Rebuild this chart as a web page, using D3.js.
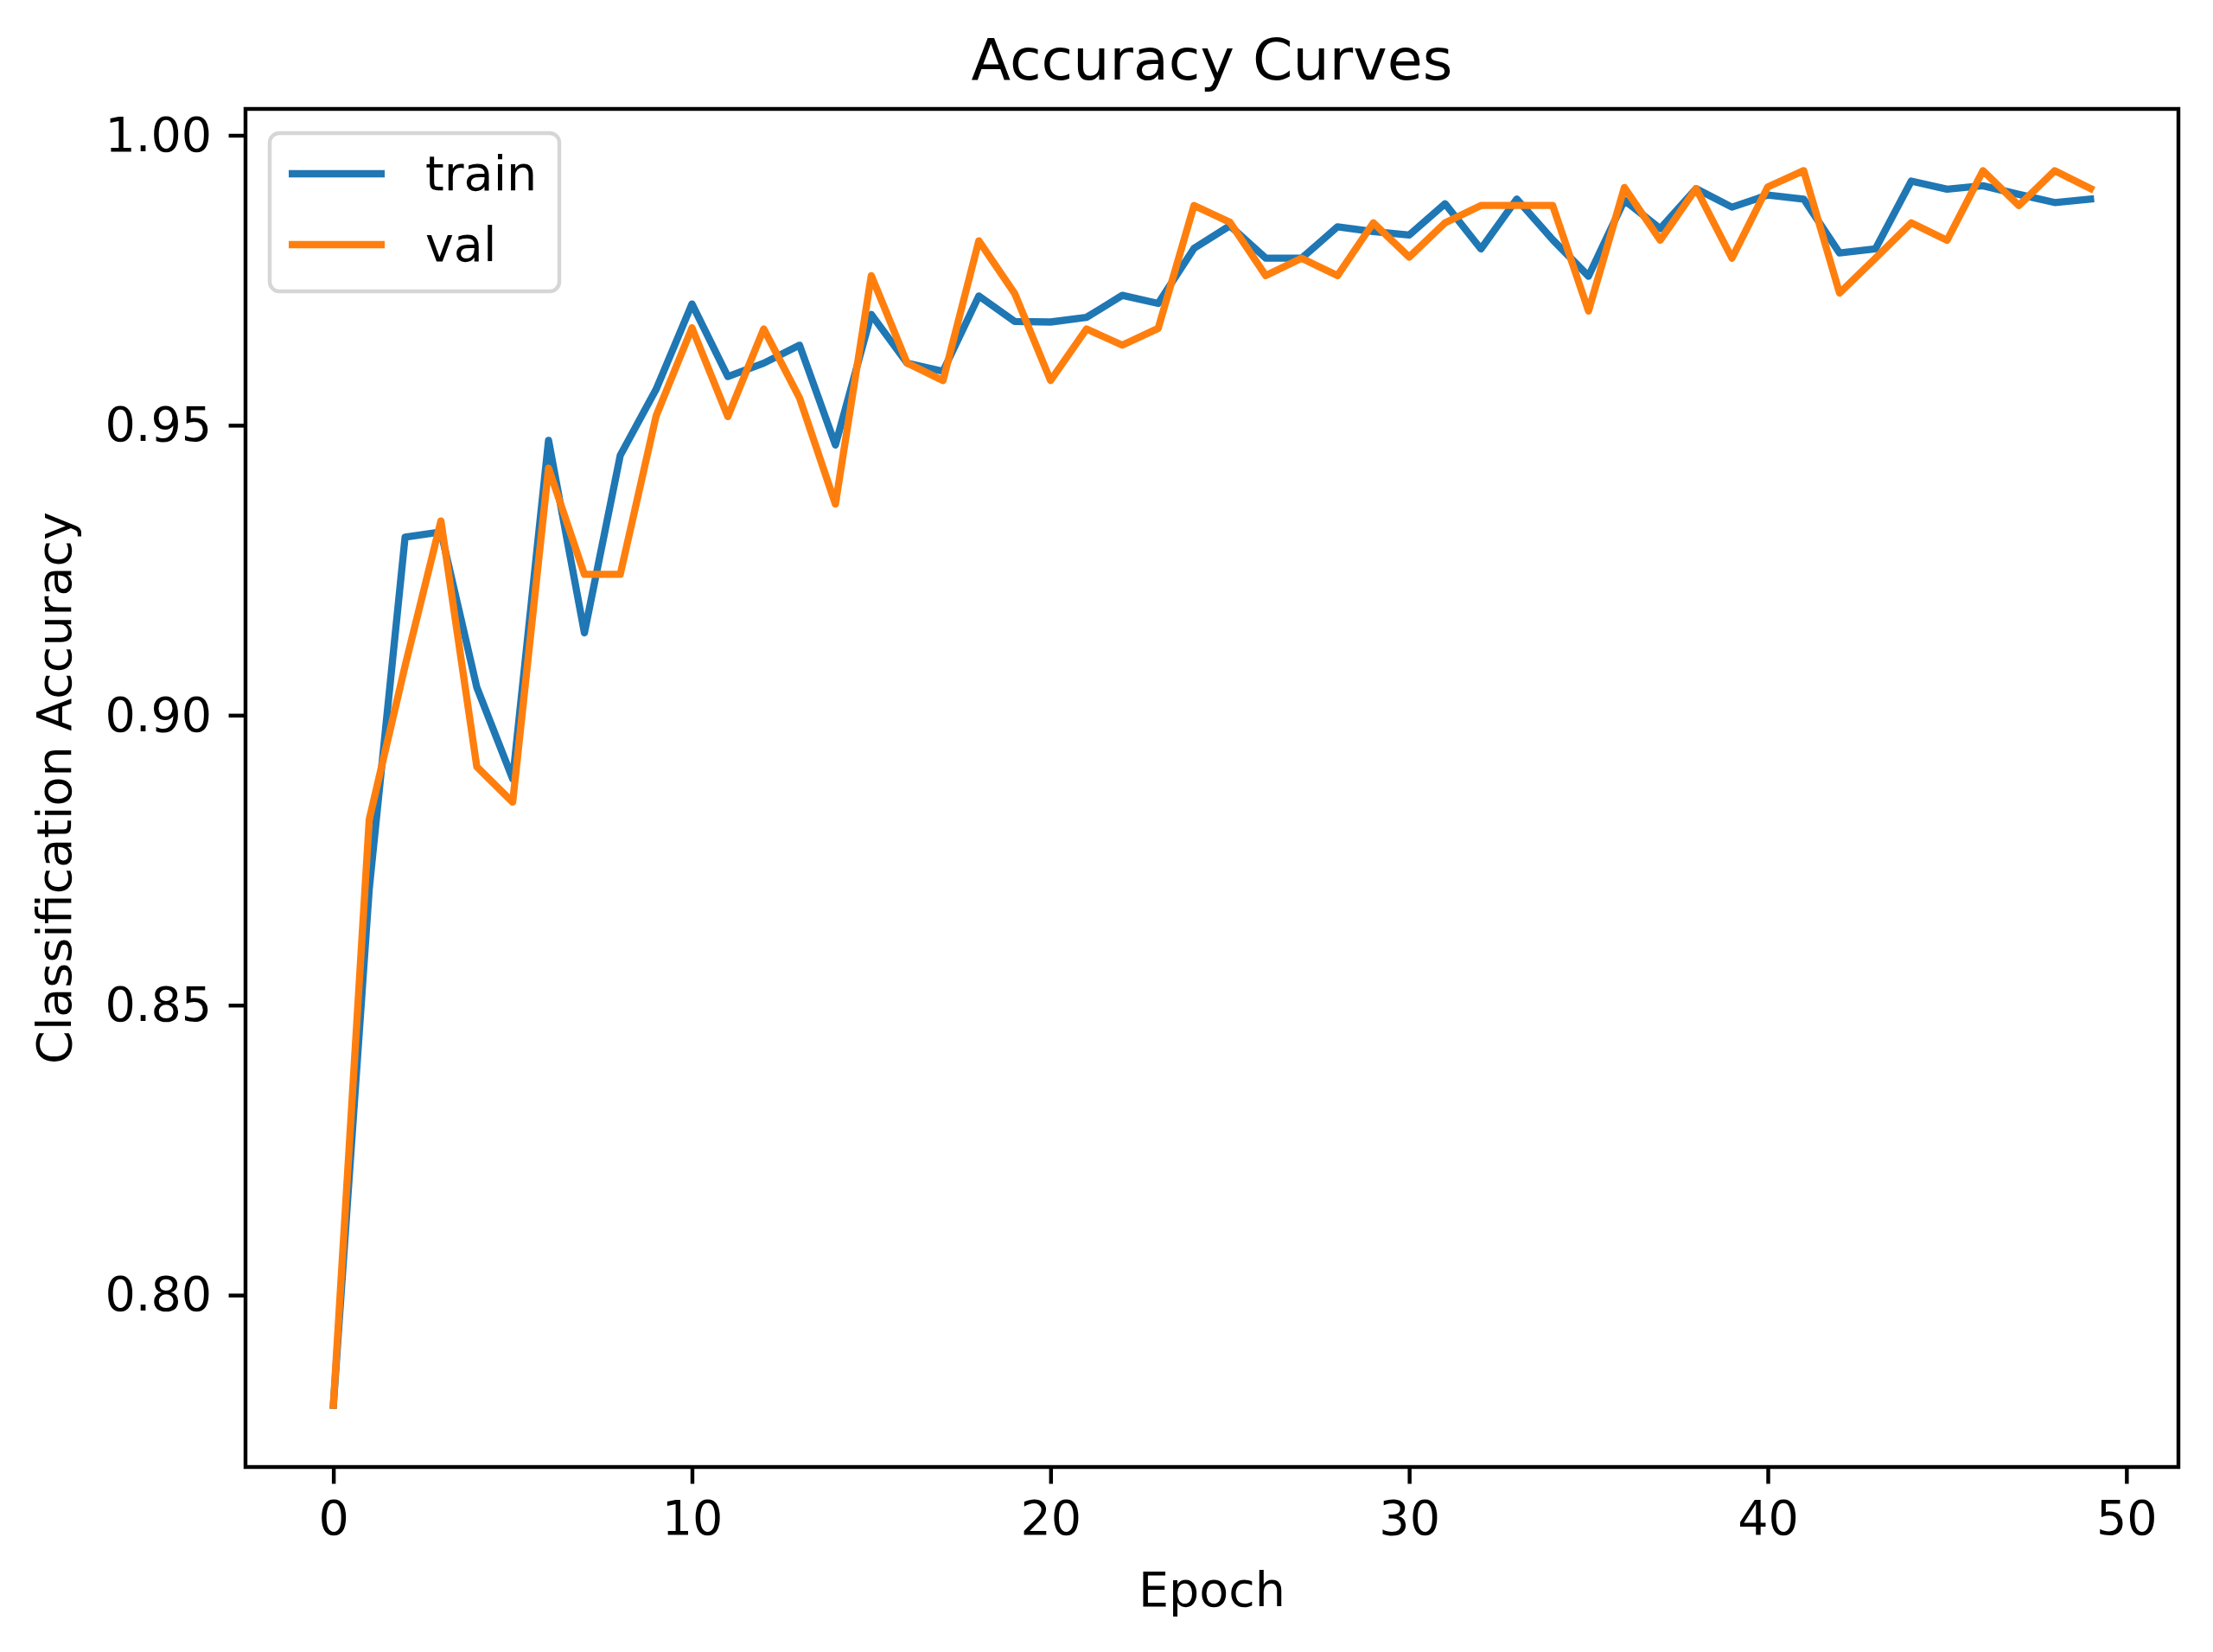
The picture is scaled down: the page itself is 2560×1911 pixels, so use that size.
<!DOCTYPE html>
<html>
<head>
<meta charset="utf-8">
<script src="https://cdn.jsdelivr.net/npm/d3@7/dist/d3.min.js"></script>
<style>
    body { margin: 0; background: #fff; }
    text { font-family: "DejaVu Sans", sans-serif; fill: #000; }
</style>
</head>
<body>
<svg id="chart" width="2560" height="1911"></svg>
<script>
// 数据
var epochs = d3.range(0, 50);
var trainAcc = [0.781, 0.870, 0.9307, 0.9316, 0.9048, 0.889, 0.9474, 0.9142, 0.9448, 0.9562,
    0.9709, 0.9584, 0.9607, 0.9638, 0.9466, 0.9691, 0.9607, 0.9593, 0.9723, 0.9679,
    0.9678, 0.9686, 0.9724, 0.9710, 0.9805, 0.9844, 0.9788, 0.9788, 0.9842, 0.9834,
    0.9828, 0.9882, 0.9804, 0.9890, 0.9820, 0.9757, 0.9888, 0.9839, 0.9908, 0.9876,
    0.9897, 0.9890, 0.9797, 0.9804, 0.9921, 0.9907, 0.9913, 0.9898, 0.9884, 0.9890];
var valAcc = [0.781, 0.882, 0.9085, 0.9335, 0.8911, 0.885, 0.9426, 0.9243, 0.9243, 0.9516,
    0.9668, 0.9515, 0.9666, 0.9547, 0.9364, 0.9758, 0.9607, 0.9577, 0.9818, 0.9727,
    0.9577, 0.9666, 0.9638, 0.9667, 0.9879, 0.9850, 0.9758, 0.9788, 0.9758, 0.9849,
    0.9790, 0.9849, 0.9879, 0.9879, 0.9879, 0.9697, 0.9910, 0.9819, 0.9908, 0.9788,
    0.9911, 0.9939, 0.9728, 0.9788, 0.9849, 0.9819, 0.9939, 0.9879, 0.9939, 0.9908];
var seriesNames = ["train", "val"];
var seriesColors = ["#1f77b4", "#ff7f0e"];
var xTicks = [0, 10, 20, 30, 40, 50];
var yTicks = [0.80, 0.85, 0.90, 0.95, 1.00];

var drawChart = (function () {

    var pt = 400 / 72;   // 图是 400 dpi
    var box = { left: 284, right: 2520, top: 126, bottom: 1697 };

    function pad(extent) {
        let m = (extent[1] - extent[0]) * 0.05;
        return [extent[0] - m, extent[1] + m];
    }

    function draw() {
        var svg = d3.select("#chart");
        var all = trainAcc.concat(valAcc);

        var x = d3.scaleLinear().domain(pad(d3.extent(epochs))).range([box.left, box.right]);
        var y = d3.scaleLinear().domain(pad(d3.extent(all))).range([box.bottom, box.top]);

        // 坐标轴
        var xAxis = d3.axisBottom(x).tickValues(xTicks).tickFormat(d3.format("d"))
            .tickSizeInner(3.5 * pt).tickSizeOuter(0).tickPadding(3.5 * pt);
        var yAxis = d3.axisLeft(y).tickValues(yTicks).tickFormat(d3.format(".2f"))
            .tickSizeInner(3.5 * pt).tickSizeOuter(0).tickPadding(3.5 * pt);

        var gx = svg.append("g").attr("transform", "translate(0," + box.bottom + ")").call(xAxis);
        var gy = svg.append("g").attr("transform", "translate(" + box.left + ",0)").call(yAxis);
        [gx, gy].forEach(function (g) {
            g.select(".domain").remove();
            g.selectAll(".tick line").attr("stroke", "#000").attr("stroke-width", 0.8 * pt);
            g.selectAll(".tick text").attr("font-size", 10 * pt).attr("fill", "#000")
                .style("font-family", "DejaVu Sans");
        });

        // 曲线
        var line = d3.line()
            .x(function (d, i) { return x(epochs[i]); })
            .y(function (d) { return y(d); });
        var series = [trainAcc, valAcc];
        for (let i = 0; i < series.length; i++) {
            svg.append("path")
                .datum(series[i])
                .attr("d", line)
                .attr("fill", "none")
                .attr("stroke", seriesColors[i])
                .attr("stroke-width", 1.5 * pt)
                .attr("stroke-linejoin", "round")
                .attr("stroke-linecap", "square");
        }

        // 边框
        svg.append("rect")
            .attr("x", box.left).attr("y", box.top)
            .attr("width", box.right - box.left).attr("height", box.bottom - box.top)
            .attr("fill", "none").attr("stroke", "#000").attr("stroke-width", 0.8 * pt);

        // 标题和轴标签
        svg.append("text").attr("x", (box.left + box.right) / 2).attr("y", 92)
            .attr("text-anchor", "middle").attr("font-size", 12 * pt).text("Accuracy Curves");
        svg.append("text").attr("x", (box.left + box.right) / 2).attr("y", 1858)
            .attr("text-anchor", "middle").attr("font-size", 10 * pt).text("Epoch");
        svg.append("text")
            .attr("transform", "translate(82," + (box.top + box.bottom) / 2 + ") rotate(-90)")
            .attr("text-anchor", "middle").attr("font-size", 10 * pt).text("Classification Accuracy");

        // 图例
        var lg = svg.append("g");
        lg.append("rect")
            .attr("x", 312).attr("y", 154).attr("width", 335).attr("height", 183)
            .attr("rx", 11).attr("ry", 11)
            .attr("fill", "#fff").attr("fill-opacity", 0.8)
            .attr("stroke", "#cccccc").attr("stroke-opacity", 0.8).attr("stroke-width", 0.8 * pt);
        for (let i = 0; i < seriesNames.length; i++) {
            let ly = 201 + i * 82;
            lg.append("line")
                .attr("x1", 334).attr("x2", 445).attr("y1", ly).attr("y2", ly)
                .attr("stroke", seriesColors[i]).attr("stroke-width", 1.5 * pt);
            lg.append("text").attr("x", 492).attr("y", ly + 19)
                .attr("font-size", 10 * pt).text(seriesNames[i]);
        }
    }
    return {
        draw: draw
    }
})()

drawChart.draw();
</script>
</body>
</html>
